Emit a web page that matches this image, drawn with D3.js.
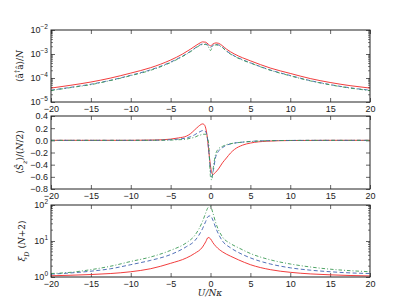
<!DOCTYPE html>
<html>
<head>
<meta charset="utf-8">
<script src="https://cdn.jsdelivr.net/npm/d3@7"></script>
<style>
  body { margin: 0; background: #fff; }
  svg { display: block; font-family: 'DejaVu Sans', sans-serif; }
  .tick text { font-size: 9px; fill: #222; }
  .lab { font-family: 'DejaVu Serif', serif; font-style: italic; font-size: 9px; fill: #222; }
</style>
</head>
<body>
<svg id="chart" width="411" height="308"></svg>
<script>
// ---- data ----
const xTicks = [-20, -15, -10, -5, 0, 5, 10, 15, 20];

// panel 1: <a+ a>/N (log)
const x1 = [-20, -17.5, -15, -12.5, -10, -7.5, -5, -3.5, -2.5, -1.8, -1.3, -1, -0.6, -0.3, 0, 0.3, 0.7, 1, 1.5, 2, 3, 4, 5, 7.5, 10, 12.5, 15, 17.5, 20];
const occRed   = [3.8e-5, 5e-5, 6.8e-5, 1.0e-4, 1.6e-4, 2.7e-4, 5.6e-4, 1.0e-3, 1.6e-3, 2.3e-3, 2.9e-3, 3.2e-3, 3.1e-3, 2.6e-3, 2.2e-3, 2.6e-3, 2.9e-3, 2.8e-3, 2.2e-3, 1.6e-3, 1.0e-3, 7e-4, 5.2e-4, 2.6e-4, 1.55e-4, 9.5e-5, 6.5e-5, 4.8e-5, 3.8e-5];
const occBlue  = [3.1e-5, 4.1e-5, 5.5e-5, 8.1e-5, 1.3e-4, 2.2e-4, 4.6e-4, 8.2e-4, 1.3e-3, 1.9e-3, 2.4e-3, 2.6e-3, 2.6e-3, 2.3e-3, 1.9e-3, 2.3e-3, 2.5e-3, 2.4e-3, 1.9e-3, 1.35e-3, 8.3e-4, 5.8e-4, 4.3e-4, 2.15e-4, 1.27e-4, 7.8e-5, 5.3e-5, 3.9e-5, 3.1e-5];
const occGreen = [3.0e-5, 4.0e-5, 5.3e-5, 7.9e-5, 1.25e-4, 2.1e-4, 4.4e-4, 7.9e-4, 1.25e-3, 1.85e-3, 2.3e-3, 2.5e-3, 2.5e-3, 2.1e-3, 1.4e-3, 2.2e-3, 2.4e-3, 2.3e-3, 1.85e-3, 1.3e-3, 8e-4, 5.6e-4, 4.2e-4, 2.1e-4, 1.23e-4, 7.6e-5, 5.2e-5, 3.8e-5, 3.0e-5];

// panel 2: <S_z>/(N/2)
const x2 = [-20, -15, -10, -7, -5, -4, -3, -2.5, -2, -1.5, -1.2, -1, -0.8, -0.6, -0.4, -0.2, 0, 0.15, 0.35, 0.6, 1, 1.5, 2, 2.5, 3, 4, 5, 7, 10, 15, 20];
const szRed   = [0, 0, 0, 0.005, 0.02, 0.04, 0.07, 0.11, 0.17, 0.23, 0.26, 0.27, 0.26, 0.2, 0.05, -0.2, -0.42, -0.53, -0.56, -0.53, -0.47, -0.37, -0.29, -0.21, -0.15, -0.08, -0.045, -0.015, -0.003, 0, 0];
const szBlue  = [0, 0, 0, 0.002, 0.01, 0.02, 0.04, 0.06, 0.09, 0.13, 0.15, 0.16, 0.16, 0.14, 0.05, -0.2, -0.5, -0.6, -0.5, -0.3, -0.18, -0.12, -0.08, -0.06, -0.045, -0.03, -0.018, -0.006, -0.002, 0, 0];
const szGreen = [0, 0, 0, 0.001, 0.005, 0.01, 0.02, 0.035, 0.05, 0.08, 0.09, 0.1, 0.1, 0.1, 0.05, -0.1, -0.6, -0.65, -0.45, -0.25, -0.14, -0.1, -0.07, -0.055, -0.045, -0.03, -0.02, -0.007, -0.002, 0, 0];

// panel 3: xi_D (N+2) (log)
const x3 = [-20, -17.5, -15, -12.5, -10, -7.5, -5, -3, -2, -1, -0.6, -0.3, 0, 0.3, 0.7, 1.5, 2.5, 3.5, 5, 7.5, 10, 12.5, 15, 17.5, 20];
const xiRed   = [1.08, 1.12, 1.17, 1.25, 1.4, 1.7, 2.4, 3.4, 4.5, 6.8, 9.5, 12.5, 11.5, 9, 7, 5, 3.8, 3.0, 2.2, 1.6, 1.35, 1.22, 1.15, 1.1, 1.07];
const xiBlue  = [1.2, 1.3, 1.45, 1.7, 2.2, 2.9, 4.2, 7, 10, 22, 35, 48, 50, 38, 22, 10, 6.5, 4.8, 3.4, 2.3, 1.8, 1.55, 1.4, 1.3, 1.25];
const xiGreen = [1.25, 1.35, 1.6, 2.0, 2.7, 3.6, 5.5, 9, 14, 35, 60, 85, 90, 60, 30, 13, 8.5, 6.5, 4.5, 3.0, 2.3, 1.9, 1.65, 1.5, 1.4];

const styles = [
  { color: '#f02828', dash: null },
  { color: '#3f62b0', dash: '4,2.5' },
  { color: '#3d9a55', dash: '3.5,2,1,2' }
];

const svg = d3.select('#chart');
const left = 51, right = 370;
const xScale = d3.scaleLinear().domain([-20, 20]).range([left, right]);

function supLabel(sel, d) {
  const e = Math.round(Math.log10(d));
  sel.text('');
  sel.append('tspan').text('10');
  sel.append('tspan').attr('dy', -4).attr('font-size', '6.5px').text(e < 0 ? '\u2212' + (-e) : e);
}

function panel(top, bottom, y, xs, series, isLog, yTicks) {
  const g = svg.append('g');
  const fmtX = d => d < 0 ? '\u2212' + (-d) : d;

  // axes with ticks pointing inward
  const bot = g.append('g').attr('transform', `translate(0,${bottom})`)
    .call(d3.axisBottom(xScale).tickValues(xTicks).tickSizeInner(-4).tickSizeOuter(0).tickPadding(4).tickFormat(fmtX));
  g.append('g').attr('transform', `translate(0,${top})`)
    .call(d3.axisTop(xScale).tickValues(xTicks).tickSizeInner(-4).tickSizeOuter(0).tickFormat(''));

  const la = d3.axisLeft(y).tickValues(yTicks).tickSizeInner(-4).tickSizeOuter(0).tickPadding(3);
  const ra = d3.axisRight(y).tickValues(yTicks).tickSizeInner(-4).tickSizeOuter(0).tickFormat('');
  if (!isLog) la.tickFormat(d => (d < 0 ? '\u2212' : '') + Math.abs(d).toFixed(1));
  const lg = g.append('g').attr('transform', `translate(${left},0)`).call(la);
  g.append('g').attr('transform', `translate(${right},0)`).call(ra);
  if (isLog) {
    lg.selectAll('.tick text').each(function (d) { supLabel(d3.select(this), d); });
    // minor ticks
    const minors = [];
    const [lo, hi] = y.domain();
    for (let e = Math.log10(lo); e < Math.log10(hi); e++) {
      for (let k = 2; k < 10; k++) minors.push(k * Math.pow(10, e));
    }
    g.selectAll(null).data(minors).enter().append('line')
      .attr('x1', left).attr('x2', left + 2)
      .attr('y1', d => y(d)).attr('y2', d => y(d)).attr('stroke', '#222').attr('stroke-width', 0.6);
    g.selectAll(null).data(minors).enter().append('line')
      .attr('x1', right).attr('x2', right - 2)
      .attr('y1', d => y(d)).attr('y2', d => y(d)).attr('stroke', '#222').attr('stroke-width', 0.6);
  }
  g.selectAll('.domain').remove();
  g.selectAll('.tick line').attr('stroke', '#222').attr('stroke-width', 0.7);

  const clip = 'clip' + top;
  g.append('clipPath').attr('id', clip).append('rect')
    .attr('x', left).attr('y', top).attr('width', right - left).attr('height', bottom - top);

  const line = d3.line().x((d, i) => xScale(xs[i])).y(d => y(d)).curve(d3.curveMonotoneX);
  series.forEach((vals, i) => {
    const s = styles[i];
    g.append('path').datum(vals)
      .attr('clip-path', `url(#${clip})`)
      .attr('d', line)
      .attr('fill', 'none')
      .attr('stroke', s.color)
      .attr('stroke-opacity', 0.9)
      .attr('stroke-width', 1)
      .attr('stroke-dasharray', s.dash);
  });

  g.append('rect').attr('x', left).attr('y', top).attr('width', right - left).attr('height', bottom - top)
    .attr('fill', 'none').attr('stroke', '#222').attr('stroke-width', 1);
  return g;
}

// panel 1
const y1 = d3.scaleLog().domain([1e-5, 1e-2]).range([102, 30]);
panel(30, 102, y1, x1, [occRed, occBlue, occGreen], true, [1e-5, 1e-4, 1e-3, 1e-2]);

// panel 2
const y2 = d3.scaleLinear().domain([-0.8, 0.4]).range([189, 116]);
panel(116, 189, y2, x2, [szRed, szBlue, szGreen], false, [-0.8, -0.6, -0.4, -0.2, 0, 0.2, 0.4]);

// panel 3
const y3 = d3.scaleLog().domain([1, 100]).range([277, 205]);
panel(205, 277, y3, x3, [xiRed, xiBlue, xiGreen], true, [1, 10, 100]);

// axis labels
function ylab(x, y, parts) {
  const t = svg.append('text').attr('class', 'lab')
    .attr('transform', `translate(${x},${y}) rotate(-90)`).attr('text-anchor', 'middle');
  parts.forEach(p => {
    const ts = t.append('tspan').text(p.t);
    if (p.sub) ts.attr('baseline-shift', 'sub').attr('font-size', '6.5px');
    if (p.up) ts.attr('baseline-shift', 'super').attr('font-size', '6.5px');
    if (p.n) ts.attr('font-style', 'normal');
  });
}
ylab(23, 66, [{ t: '\u27E8\u00E2', n: true }, { t: '\u2020', up: true, n: true }, { t: '\u00E2\u27E9/', n: true }, { t: 'N' }]);
ylab(23, 152, [{ t: '\u27E8', n: true }, { t: '\u015C' }, { t: 'z', sub: true }, { t: '\u27E9/(', n: true }, { t: 'N' }, { t: '/2)', n: true }]);
ylab(25, 241, [{ t: '\u03BE' }, { t: 'D', sub: true }, { t: ' (', n: true }, { t: 'N' }, { t: '+2)', n: true }]);

svg.append('text').attr('class', 'lab').attr('x', 210).attr('y', 296).attr('text-anchor', 'middle')
  .text('U/N\u03BA');
</script>
</body>
</html>
